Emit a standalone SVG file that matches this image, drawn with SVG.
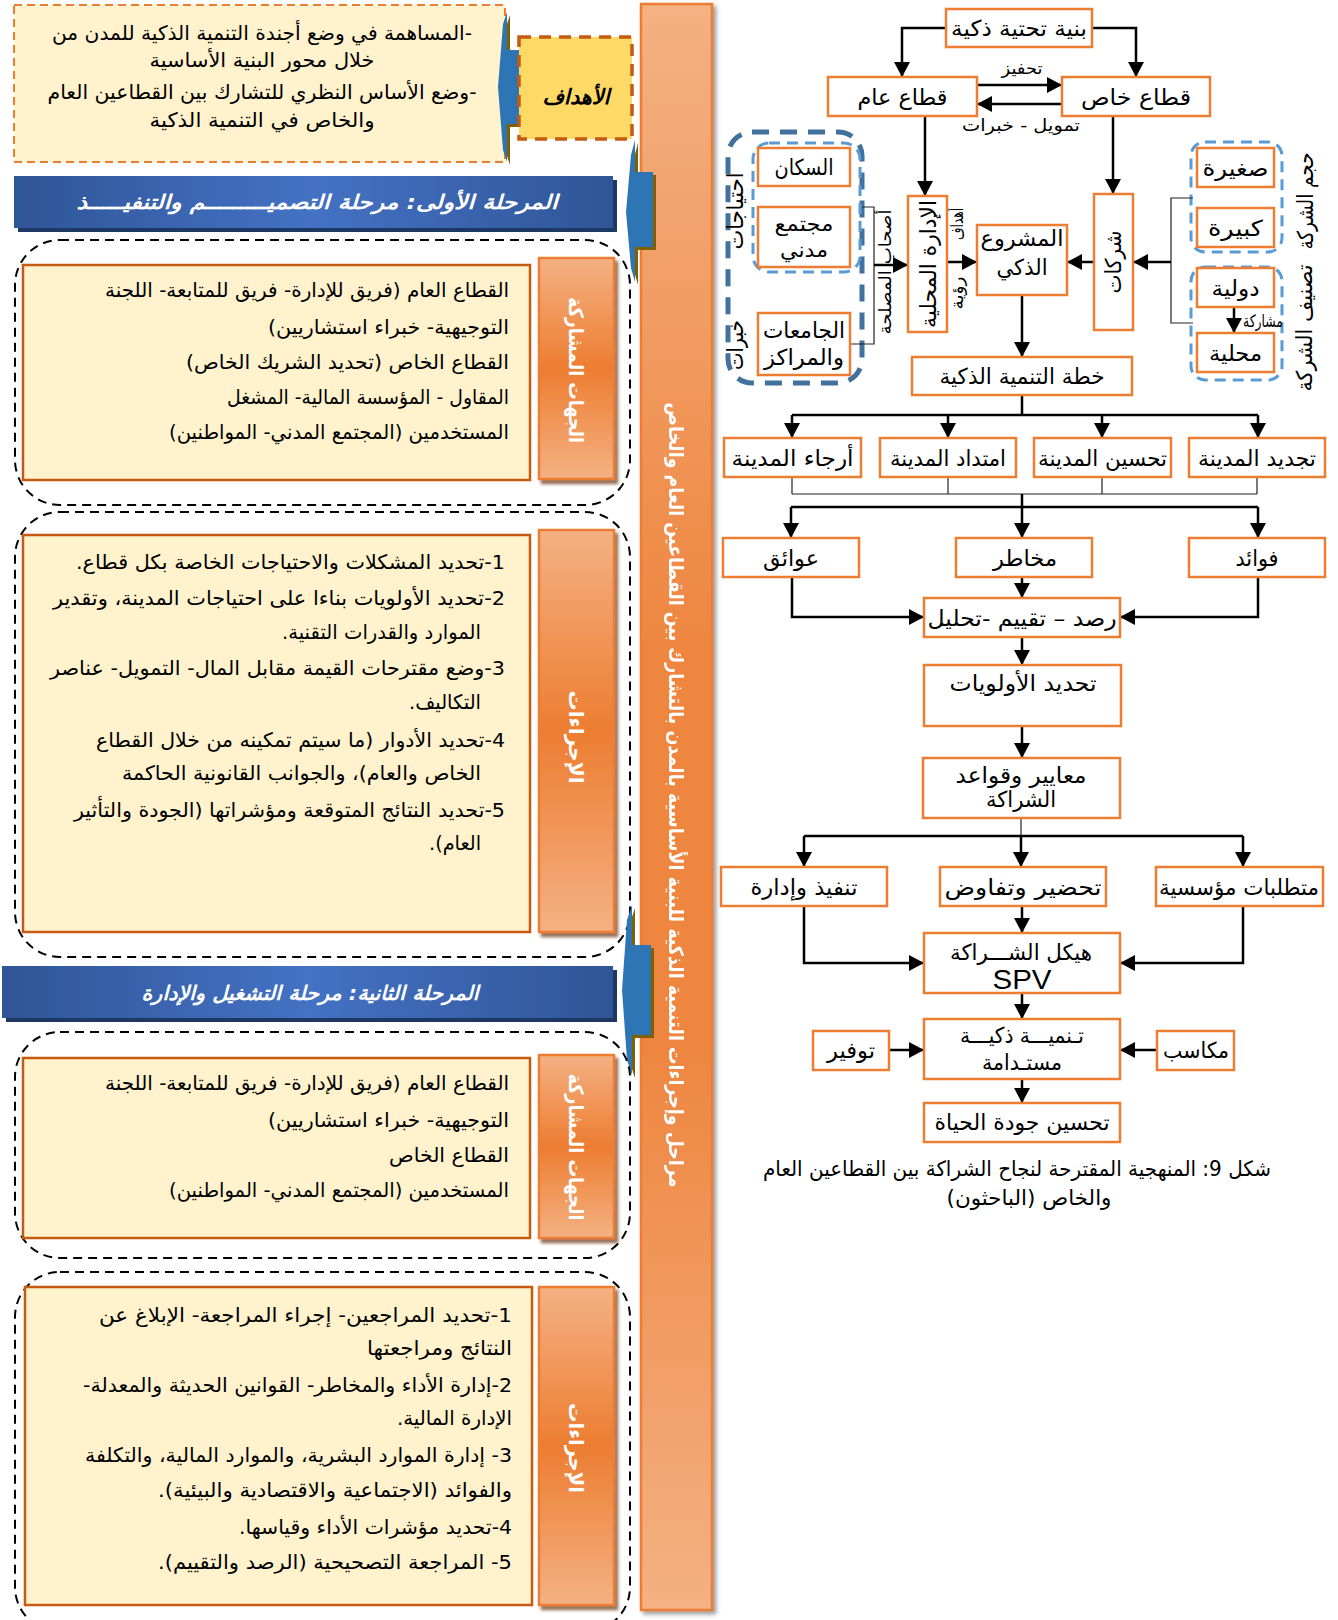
<svg xmlns="http://www.w3.org/2000/svg" width="1338" height="1620" viewBox="0 0 1338 1620">
<defs>
<style>
.rt{font-family:'DejaVu Sans','Liberation Sans',sans-serif;font-size:22px;text-anchor:middle;direction:rtl;fill:#000}
.sm{font-size:17px}
.lt{font-family:'DejaVu Sans','Liberation Sans',sans-serif;font-size:20px;text-anchor:start;direction:rtl;fill:#000}
.ob{fill:#fff;stroke:#ED7D31;stroke-width:2.5}
.c{fill:none;stroke:#000;stroke-width:2.5}
.a{marker-end:url(#ah)}
.th{fill:none;stroke:#222;stroke-width:1.2}
.bd{fill:none;stroke:#5B9BD5;stroke-width:3;stroke-dasharray:11 7}
.dd{fill:none;stroke:#41719C;stroke-width:5;stroke-dasharray:17 11}
.grp{fill:none;stroke:#000;stroke-width:2;stroke-dasharray:9 6}
.tb{fill:#FFF2CC;stroke:#C55A11;stroke-width:2.5}
.lb{fill:url(#gBar);stroke:#ED7D31;stroke-width:2.5;filter:url(#sh)}
.wt{font-family:'DejaVu Sans',sans-serif;font-weight:bold;font-size:20px;fill:#fff;text-anchor:middle;direction:rtl}
.hd{fill:url(#gHead);filter:url(#shH)}
.co{fill:#2E75B6}
.cos{fill:#7F6000}
</style>
<marker id="ah" markerUnits="userSpaceOnUse" markerWidth="16" markerHeight="16" refX="15" refY="8" orient="auto">
<path d="M0,0 L15,8 L0,16 z" fill="#000"/>
</marker>
<linearGradient id="gBar" x1="0" y1="0" x2="0" y2="1">
<stop offset="0" stop-color="#F4B183"/><stop offset="0.5" stop-color="#ED7D31"/><stop offset="1" stop-color="#F4B183"/>
</linearGradient>
<linearGradient id="gCol" x1="0" y1="0" x2="0" y2="1">
<stop offset="0" stop-color="#F4B183"/><stop offset="0.4" stop-color="#EE8640"/><stop offset="0.65" stop-color="#EE8640"/><stop offset="1" stop-color="#F4B183"/>
</linearGradient>
<linearGradient id="gHead" x1="0" y1="0" x2="1" y2="0">
<stop offset="0" stop-color="#2F5597"/><stop offset="0.5" stop-color="#4472C4"/><stop offset="1" stop-color="#2F5597"/>
</linearGradient>
<filter id="sh" x="-20%" y="-10%" width="140%" height="130%">
<feDropShadow dx="3" dy="4" stdDeviation="1.5" flood-color="#6b3208" flood-opacity="0.7"/>
</filter>
<filter id="shH" x="-5%" y="-20%" width="110%" height="150%">
<feDropShadow dx="4" dy="4" stdDeviation="0.5" flood-color="#1F3864" flood-opacity="1"/>
</filter>
<filter id="shC" x="-20%" y="-5%" width="140%" height="110%">
<feDropShadow dx="3" dy="3" stdDeviation="2" flood-color="#555" flood-opacity="0.6"/>
</filter>
</defs>

<rect width="1338" height="1620" fill="#fff"/>

<!-- ============ LEFT PANEL ============ -->
<g id="goals-text">
<rect x="14" y="5" width="491" height="157" fill="#FFF2CC" stroke="#ED7D31" stroke-width="2" stroke-dasharray="8 5"/>
<text class="lt" style="text-anchor:middle" x="262" y="40" textLength="420" lengthAdjust="spacingAndGlyphs">-المساهمة في وضع أجندة التنمية الذكية للمدن من</text>
<text class="lt" style="text-anchor:middle" x="262" y="67" textLength="225" lengthAdjust="spacingAndGlyphs">خلال محور البنية الأساسية</text>
<text class="lt" style="text-anchor:middle" x="262" y="99" textLength="429" lengthAdjust="spacingAndGlyphs">-وضع الأساس النظري للتشارك بين القطاعين العام</text>
<text class="lt" style="text-anchor:middle" x="262" y="127" textLength="225" lengthAdjust="spacingAndGlyphs">والخاص في التنمية الذكية</text>
</g>

<g id="callout-1">
<path class="cos" transform="translate(3,3)" d="M507,12 L507,50 L525,50 L525,124 L507,124 L507,162 L503,150 L498,87 L503,24 Z"/>
<path class="co" d="M507,12 L507,50 L525,50 L525,124 L507,124 L507,162 L503,150 L498,87 L503,24 Z"/>
</g>

<g id="goals-label">
<rect x="519" y="37" width="113" height="102" fill="#FFD966" stroke="#C55A11" stroke-width="3.5" stroke-dasharray="12 8"/>
<text x="576" y="104" font-family="'DejaVu Sans',sans-serif" font-size="21" font-weight="bold" font-style="italic" text-anchor="middle" direction="rtl" textLength="67" lengthAdjust="spacingAndGlyphs">الأهداف</text>
</g>

<g id="column" filter="url(#shC)">
<rect x="641" y="4" width="71" height="1606" fill="url(#gCol)" stroke="#ED7D31" stroke-width="2.5"/>
<text class="wt" transform="translate(676,795) rotate(90)" x="0" y="7" textLength="785" lengthAdjust="spacingAndGlyphs">مراحل وإجراءات التنمية الذكية للبنية الأساسية بالمدن بالتشارك بين القطاعين العام والخاص</text>
</g>

<g id="callout-2">
<path class="cos" transform="translate(3,3)" d="M635,140 L635,172 L653,172 L653,247 L635,247 L635,282 L631,268 L626,212 L631,155 Z"/>
<path class="co" d="M635,140 L635,172 L653,172 L653,247 L635,247 L635,282 L631,268 L626,212 L631,155 Z"/>
</g>

<g id="phase1-header">
<rect class="hd" x="14" y="176" width="599" height="52"/>
<text x="317" y="209" font-family="'DejaVu Sans',sans-serif" font-size="20" font-weight="bold" font-style="italic" fill="#fff" text-anchor="middle" direction="rtl" textLength="481" lengthAdjust="spacingAndGlyphs">المرحلة الأولى: مرحلة التصميـــــــــم والتنفيـــــذ</text>
</g>

<g id="phase1-participants">
<rect class="grp" x="15" y="240" width="615" height="265" rx="45"/>
<rect class="tb" x="23" y="265" width="507" height="215"/>
<text class="lt" x="509" y="297" textLength="404" lengthAdjust="spacingAndGlyphs">القطاع العام (فريق للإدارة- فريق للمتابعة- اللجنة</text>
<text class="lt" x="509" y="334" textLength="241" lengthAdjust="spacingAndGlyphs">التوجيهية- خبراء استشاريين)</text>
<text class="lt" x="509" y="369" textLength="323" lengthAdjust="spacingAndGlyphs">القطاع الخاص (تحديد الشريك الخاص)</text>
<text class="lt" x="509" y="404" textLength="282" lengthAdjust="spacingAndGlyphs">المقاول - المؤسسة المالية- المشغل</text>
<text class="lt" x="509" y="439" textLength="340" lengthAdjust="spacingAndGlyphs">المستخدمين (المجتمع المدني- المواطنين)</text>
<rect class="lb" x="539" y="258" width="75" height="221"/>
<text class="wt" transform="translate(576,370) rotate(90)" x="0" y="7" textLength="146" lengthAdjust="spacingAndGlyphs">الجهات المشاركة</text>
</g>

<g id="phase1-procedures">
<rect class="grp" x="15" y="512" width="615" height="445" rx="45"/>
<rect class="tb" x="23" y="535" width="507" height="397"/>
<text class="lt" x="505" y="569" textLength="429" lengthAdjust="spacingAndGlyphs">1-تحديد المشكلات والاحتياجات الخاصة بكل قطاع.</text>
<text class="lt" x="505" y="605" textLength="452" lengthAdjust="spacingAndGlyphs">2-تحديد الأولويات بناءا على احتياجات المدينة، وتقدير</text>
<text class="lt" x="481" y="639" textLength="199" lengthAdjust="spacingAndGlyphs">الموارد والقدرات التقنية.</text>
<text class="lt" x="505" y="675" textLength="455" lengthAdjust="spacingAndGlyphs">3-وضع مقترحات القيمة مقابل المال- التمويل- عناصر</text>
<text class="lt" x="481" y="709" textLength="72" lengthAdjust="spacingAndGlyphs">التكاليف.</text>
<text class="lt" x="505" y="747" textLength="409" lengthAdjust="spacingAndGlyphs">4-تحديد الأدوار (ما سيتم تمكينه من خلال القطاع</text>
<text class="lt" x="481" y="780" textLength="359" lengthAdjust="spacingAndGlyphs">الخاص والعام)، والجوانب القانونية الحاكمة</text>
<text class="lt" x="505" y="817" textLength="431" lengthAdjust="spacingAndGlyphs">5-تحديد النتائج المتوقعة ومؤشراتها (الجودة والتأثير</text>
<text class="lt" x="481" y="850" textLength="52" lengthAdjust="spacingAndGlyphs">العام).</text>
<rect class="lb" x="539" y="530" width="75" height="402"/>
<text class="wt" transform="translate(576,737) rotate(90)" x="0" y="7" textLength="93" lengthAdjust="spacingAndGlyphs">الإجراءات</text>
</g>

<g id="callout-3">
<path class="cos" transform="translate(3,3)" d="M632,905 L632,945 L651,945 L651,1035 L632,1035 L632,1075 L627,1060 L622,990 L627,920 Z"/>
<path class="co" d="M632,905 L632,945 L651,945 L651,1035 L632,1035 L632,1075 L627,1060 L622,990 L627,920 Z"/>
</g>

<g id="phase2-header">
<rect class="hd" x="2" y="966" width="611" height="52"/>
<text x="310" y="1000" font-family="'DejaVu Sans',sans-serif" font-size="20" font-weight="bold" font-style="italic" fill="#fff" text-anchor="middle" direction="rtl" textLength="337" lengthAdjust="spacingAndGlyphs">المرحلة الثانية: مرحلة التشغيل والإدارة</text>
</g>

<g id="phase2-participants">
<rect class="grp" x="15" y="1032" width="615" height="226" rx="45"/>
<rect class="tb" x="23" y="1058" width="507" height="180"/>
<text class="lt" x="509" y="1090" textLength="404" lengthAdjust="spacingAndGlyphs">القطاع العام (فريق للإدارة- فريق للمتابعة- اللجنة</text>
<text class="lt" x="509" y="1127" textLength="241" lengthAdjust="spacingAndGlyphs">التوجيهية- خبراء استشاريين)</text>
<text class="lt" x="509" y="1162" textLength="120" lengthAdjust="spacingAndGlyphs">القطاع الخاص</text>
<text class="lt" x="509" y="1197" textLength="340" lengthAdjust="spacingAndGlyphs">المستخدمين (المجتمع المدني- المواطنين)</text>
<rect class="lb" x="539" y="1055" width="75" height="183"/>
<text class="wt" transform="translate(576,1147) rotate(90)" x="0" y="7" textLength="147" lengthAdjust="spacingAndGlyphs">الجهات المشاركة</text>
</g>

<g id="phase2-procedures">
<rect class="grp" x="15" y="1272" width="615" height="360" rx="45"/>
<rect class="tb" x="25" y="1287" width="507" height="318"/>
<text class="lt" x="512" y="1322" textLength="413" lengthAdjust="spacingAndGlyphs">1-تحديد المراجعين- إجراء المراجعة- الإبلاغ عن</text>
<text class="lt" x="512" y="1355" textLength="145" lengthAdjust="spacingAndGlyphs">النتائج ومراجعتها</text>
<text class="lt" x="512" y="1392" textLength="429" lengthAdjust="spacingAndGlyphs">2-إدارة الأداء والمخاطر- القوانين الحديثة والمعدلة-</text>
<text class="lt" x="512" y="1425" textLength="115" lengthAdjust="spacingAndGlyphs">الإدارة المالية.</text>
<text class="lt" x="512" y="1462" textLength="427" lengthAdjust="spacingAndGlyphs">3- إدارة الموارد البشرية، والموارد المالية، والتكلفة</text>
<text class="lt" x="512" y="1497" textLength="354" lengthAdjust="spacingAndGlyphs">والفوائد (الاجتماعية والاقتصادية والبيئية).</text>
<text class="lt" x="512" y="1534" textLength="273" lengthAdjust="spacingAndGlyphs">4-تحديد مؤشرات الأداء وقياسها.</text>
<text class="lt" x="512" y="1569" textLength="354" lengthAdjust="spacingAndGlyphs">5- المراجعة التصحيحية (الرصد والتقييم).</text>
<rect class="lb" x="539" y="1287" width="75" height="318"/>
<text class="wt" transform="translate(576,1448) rotate(90)" x="0" y="7" textLength="90" lengthAdjust="spacingAndGlyphs">الإجراءات</text>
</g>

<!-- ============ RIGHT DIAGRAM ============ -->
<g id="groups">
<rect class="dd" x="728" y="132" width="134" height="251" rx="24"/>
<rect class="bd" x="753" y="143" width="107" height="129" rx="16"/>
<rect class="bd" x="1191" y="142" width="91" height="110" rx="14"/>
<rect class="bd" x="1191" y="267" width="91" height="113" rx="14"/>
</g>

<g id="connectors">
<path class="c a" d="M946,28 H902 V77"/>
<path class="c a" d="M1092,28 H1136 V77"/>
<path class="c a" d="M977,85 H1062"/>
<path class="c a" d="M1062,104 H977"/>
<path class="c a" d="M925,116 V196"/>
<path class="c a" d="M1113,116 V194"/>
<path class="c a" d="M947,262 H977"/>
<path class="c a" d="M1094,262 H1067"/>
<path class="th" d="M1193,198 H1171 V323 H1193"/>
<path class="c a" d="M1171,262 H1133"/>
<path class="c a" d="M1234,307 V333"/>
<path class="th" d="M862,207 H874 V344 H850"/>
<path class="c a" d="M874,265 H908"/>
<path class="c a" d="M1022,295 V357"/>
<path class="c" d="M1022,395 V415 M792,415 H1258"/>
<path class="c a" d="M792,415 V438"/>
<path class="c a" d="M948,415 V438"/>
<path class="c a" d="M1102,415 V438"/>
<path class="c a" d="M1258,415 V438"/>
<path class="th" d="M792,477 V494 M948,477 V494 M1102,477 V494 M1257,477 V494 M792,494 H1257"/>
<path class="c" d="M1022,494 V507 M791,507 H1258"/>
<path class="c a" d="M791,507 V538"/>
<path class="c a" d="M1022,507 V538"/>
<path class="c a" d="M1258,507 V538"/>
<path class="c a" d="M1022,577 V598"/>
<path class="c a" d="M792,577 V617 H924"/>
<path class="c a" d="M1258,577 V617 H1120"/>
<path class="c a" d="M1022,637 V665"/>
<path class="c a" d="M1022,726 V758"/>
<path class="th" d="M1021,818 V836"/>
<path class="c" d="M804,836 H1243"/>
<path class="c a" d="M804,836 V867"/>
<path class="c a" d="M1021,836 V867"/>
<path class="c a" d="M1243,836 V867"/>
<path class="c a" d="M1022,906 V933"/>
<path class="c a" d="M804,906 V963 H924"/>
<path class="c a" d="M1243,906 V963 H1120"/>
<path class="c a" d="M1022,993 V1019"/>
<path class="c a" d="M889,1050 H924"/>
<path class="c a" d="M1157,1050 H1120"/>
<path class="c a" d="M1022,1079 V1103"/>
<text class="rt sm" x="1022" y="74" textLength="41" lengthAdjust="spacingAndGlyphs">تحفيز</text>
<text class="rt sm" x="1021" y="131" textLength="118" lengthAdjust="spacingAndGlyphs">تمويل - خبرات</text>
<text class="rt sm" x="1263" y="327" textLength="40" lengthAdjust="spacingAndGlyphs">مشاركة</text>
<text class="rt sm" transform="translate(885,272) rotate(-90)" x="0" y="6" textLength="125" lengthAdjust="spacingAndGlyphs">أصحاب المصلحة</text>
<text class="rt sm" transform="translate(957,224) rotate(-90)" x="0" y="6" textLength="32" lengthAdjust="spacingAndGlyphs">أهداف</text>
<text class="rt sm" transform="translate(957,293) rotate(-90)" x="0" y="6" textLength="33" lengthAdjust="spacingAndGlyphs">رؤية</text>
<text class="rt" transform="translate(736,211) rotate(-90)" x="0" y="7" textLength="77" lengthAdjust="spacingAndGlyphs">احتياجات</text>
<text class="rt" transform="translate(736,345) rotate(-90)" x="0" y="7" textLength="50" lengthAdjust="spacingAndGlyphs">خبرات</text>
<text class="rt" transform="translate(1306,201) rotate(-90)" x="0" y="7" textLength="97" lengthAdjust="spacingAndGlyphs">حجم الشركة</text>
<text class="rt" transform="translate(1305,328) rotate(-90)" x="0" y="7" textLength="127" lengthAdjust="spacingAndGlyphs">تصنيف الشركة</text>
</g>

<g id="n-infra"><rect class="ob" x="946" y="9" width="146" height="38"/><text class="rt" x="1019" y="36" textLength="136" lengthAdjust="spacingAndGlyphs">بنية تحتية ذكية</text></g>
<g id="n-public"><rect class="ob" x="828" y="77" width="149" height="39"/><text class="rt" x="902.5" y="105" textLength="90" lengthAdjust="spacingAndGlyphs">قطاع عام</text></g>
<g id="n-private"><rect class="ob" x="1062" y="77" width="148" height="39"/><text class="rt" x="1136" y="105" textLength="110" lengthAdjust="spacingAndGlyphs">قطاع خاص</text></g>
<g id="n-localadmin"><rect class="ob" x="908" y="196" width="39" height="136"/><text class="rt" transform="translate(927.5,264) rotate(-90)" x="0" y="8" textLength="128" lengthAdjust="spacingAndGlyphs">الإدارة المحلية</text></g>
<g id="n-project"><rect class="ob" x="977" y="225" width="90" height="70"/><text class="rt" x="1022" y="246" textLength="83" lengthAdjust="spacingAndGlyphs">المشروع</text><text class="rt" x="1022" y="275" textLength="51" lengthAdjust="spacingAndGlyphs">الذكي</text></g>
<g id="n-companies"><rect class="ob" x="1094" y="194" width="39" height="136"/><text class="rt" transform="translate(1113,262) rotate(-90)" x="0" y="8" textLength="63" lengthAdjust="spacingAndGlyphs">شركات</text></g>
<g id="n-small"><rect class="ob" x="1197" y="148" width="77" height="39"/><text class="rt" x="1235.5" y="176" textLength="66" lengthAdjust="spacingAndGlyphs">صغيرة</text></g>
<g id="n-large"><rect class="ob" x="1197" y="208" width="77" height="39"/><text class="rt" x="1235.5" y="236" textLength="55" lengthAdjust="spacingAndGlyphs">كبيرة</text></g>
<g id="n-intl"><rect class="ob" x="1197" y="268" width="77" height="39"/><text class="rt" x="1235.5" y="296" textLength="48" lengthAdjust="spacingAndGlyphs">دولية</text></g>
<g id="n-local"><rect class="ob" x="1197" y="333" width="77" height="39"/><text class="rt" x="1235.5" y="361" textLength="53" lengthAdjust="spacingAndGlyphs">محلية</text></g>
<g id="n-residents"><rect class="ob" x="758" y="148" width="92" height="38"/><text class="rt" x="804" y="175" textLength="59" lengthAdjust="spacingAndGlyphs">السكان</text></g>
<g id="n-civil"><rect class="ob" x="758" y="207" width="92" height="60"/><text class="rt" x="804" y="231" style="font-size:20px" textLength="59" lengthAdjust="spacingAndGlyphs">مجتمع</text><text class="rt" x="804" y="257" style="font-size:20px" textLength="48" lengthAdjust="spacingAndGlyphs">مدني</text></g>
<g id="n-univ"><rect class="ob" x="758" y="313" width="92" height="62"/><text class="rt" x="804" y="338" textLength="82" lengthAdjust="spacingAndGlyphs">الجامعات</text><text class="rt" x="804" y="365" textLength="80" lengthAdjust="spacingAndGlyphs">والمراكز</text></g>
<g id="n-plan"><rect class="ob" x="912" y="357" width="220" height="38"/><text class="rt" x="1022" y="384" textLength="165" lengthAdjust="spacingAndGlyphs">خطة التنمية الذكية</text></g>
<g id="n-outskirts"><rect class="ob" x="724" y="438" width="137" height="39"/><text class="rt" x="792.5" y="466" textLength="122" lengthAdjust="spacingAndGlyphs">أرجاء المدينة</text></g>
<g id="n-extension"><rect class="ob" x="880" y="438" width="136" height="39"/><text class="rt" x="948" y="466" textLength="116" lengthAdjust="spacingAndGlyphs">امتداد المدينة</text></g>
<g id="n-improve"><rect class="ob" x="1034" y="438" width="137" height="39"/><text class="rt" x="1102.5" y="466" textLength="129" lengthAdjust="spacingAndGlyphs">تحسين المدينة</text></g>
<g id="n-renew"><rect class="ob" x="1189" y="438" width="136" height="39"/><text class="rt" x="1257" y="466" textLength="118" lengthAdjust="spacingAndGlyphs">تجديد المدينة</text></g>
<g id="n-obstacles"><rect class="ob" x="723" y="538" width="136" height="39"/><text class="rt" x="791" y="566" textLength="56" lengthAdjust="spacingAndGlyphs">عوائق</text></g>
<g id="n-risks"><rect class="ob" x="956" y="538" width="136" height="39"/><text class="rt" x="1025" y="566" textLength="64" lengthAdjust="spacingAndGlyphs">مخاطر</text></g>
<g id="n-benefits"><rect class="ob" x="1189" y="538" width="136" height="39"/><text class="rt" x="1257" y="566" textLength="43" lengthAdjust="spacingAndGlyphs">فوائد</text></g>
<g id="n-monitor"><rect class="ob" x="924" y="598" width="196" height="39"/><text class="rt" x="1022" y="626" textLength="189" lengthAdjust="spacingAndGlyphs">رصد – تقييم -تحليل</text></g>
<g id="n-priorities"><rect class="ob" x="924" y="665" width="197" height="61"/><text class="rt" x="1023" y="691" textLength="147" lengthAdjust="spacingAndGlyphs">تحديد الأولويات</text></g>
<g id="n-criteria"><rect class="ob" x="923" y="758" width="197" height="60"/><text class="rt" x="1021" y="783" textLength="131" lengthAdjust="spacingAndGlyphs">معايير وقواعد</text><text class="rt" x="1021" y="807" textLength="70" lengthAdjust="spacingAndGlyphs">الشراكة</text></g>
<g id="n-implement"><rect class="ob" x="721" y="867" width="166" height="39"/><text class="rt" x="804" y="895" textLength="107" lengthAdjust="spacingAndGlyphs">تنفيذ وإدارة</text></g>
<g id="n-prepare"><rect class="ob" x="940" y="867" width="166" height="39"/><text class="rt" x="1023" y="895" textLength="157" lengthAdjust="spacingAndGlyphs">تحضير وتفاوض</text></g>
<g id="n-institutional"><rect class="ob" x="1156" y="867" width="167" height="39"/><text class="rt" x="1239" y="895" textLength="160" lengthAdjust="spacingAndGlyphs">متطلبات مؤسسية</text></g>
<g id="n-spv"><rect class="ob" x="924" y="933" width="196" height="60"/><text class="rt" x="1021" y="960" textLength="142" lengthAdjust="spacingAndGlyphs">هيكل الشـــراكة</text><text x="1022" y="989" font-family="'Liberation Sans',Arial,sans-serif" font-size="27" text-anchor="middle" textLength="59" lengthAdjust="spacingAndGlyphs">SPV</text></g>
<g id="n-sustain"><rect class="ob" x="924" y="1019" width="196" height="60"/><text class="rt" x="1022" y="1043" textLength="124" lengthAdjust="spacingAndGlyphs">تـنميـــة ذكيـــة</text><text class="rt" x="1022" y="1070" textLength="80" lengthAdjust="spacingAndGlyphs">مستـدامة</text></g>
<g id="n-saving"><rect class="ob" x="813" y="1031" width="76" height="39"/><text class="rt" x="851" y="1058" textLength="48" lengthAdjust="spacingAndGlyphs">توفير</text></g>
<g id="n-gains"><rect class="ob" x="1157" y="1031" width="77" height="39"/><text class="rt" x="1196" y="1058" textLength="66" lengthAdjust="spacingAndGlyphs">مكاسب</text></g>
<g id="n-quality"><rect class="ob" x="924" y="1103" width="196" height="39"/><text class="rt" x="1022" y="1130" textLength="175" lengthAdjust="spacingAndGlyphs">تحسين جودة الحياة</text></g>

<g id="caption">
<text class="rt" x="1017" y="1176" style="font-size:21px" textLength="508" lengthAdjust="spacingAndGlyphs">شكل 9: المنهجية المقترحة لنجاح الشراكة بين القطاعين العام</text>
<text class="rt" x="1029" y="1205" style="font-size:21px" textLength="165" lengthAdjust="spacingAndGlyphs">والخاص (الباحثون)</text>
</g>
</svg>
